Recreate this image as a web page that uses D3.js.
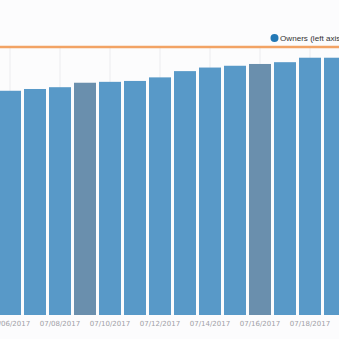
<!DOCTYPE html>
<html><head><meta charset="utf-8">
<script src="https://cdn.jsdelivr.net/npm/d3@7"></script>
<style>html,body{margin:0;padding:0;background:#fcfcfd;}svg{display:block;}</style>
</head><body>
<script>
// Data
const allDates = ["07/05/2017","07/06/2017","07/07/2017","07/08/2017","07/09/2017","07/10/2017","07/11/2017","07/12/2017","07/13/2017","07/14/2017","07/15/2017","07/16/2017","07/17/2017","07/18/2017","07/19/2017","07/20/2017"];
const barDates = ["07/06/2017","07/07/2017","07/08/2017","07/09/2017","07/10/2017","07/11/2017","07/12/2017","07/13/2017","07/14/2017","07/15/2017","07/16/2017","07/17/2017","07/18/2017","07/19/2017"];
const owners = [251, 253, 255, 260, 261, 262, 266, 273, 277, 279, 281, 283, 288, 288];
const highlighted = ["07/09/2017","07/16/2017"];
const rightSeries = [100,100,100,100,100,100,100,100,100,100,100,100,100,100,100,100];
const tickLabels = ["07/06/2017","07/08/2017","07/10/2017","07/12/2017","07/14/2017","07/16/2017","07/18/2017"];
const legendLabel = "Owners (left axis)";

const W = 339, H = 339;
const svg = d3.select("body").append("svg").attr("width", W).attr("height", H);
svg.append("rect").attr("width", W).attr("height", H).attr("fill", "#fcfcfd");

const x = d3.scaleBand().domain(allDates).range([-27.5, 372.5]).paddingInner(0.12).paddingOuter(0.06);
const y = d3.scaleLinear().domain([0, 300]).range([315, 47]);
const y2 = d3.scaleLinear().domain([0, 100]).range([315, 47]);

// vertical grid
svg.append("g").selectAll("line").data(tickLabels).join("line")
  .attr("x1", d => x(d) + x.bandwidth()/2).attr("x2", d => x(d) + x.bandwidth()/2)
  .attr("y1", y2(100)).attr("y2", y(0))
  .attr("stroke", "#ececef").attr("stroke-width", 1);

// bars
svg.append("g").selectAll("rect").data(barDates.map((d,i)=>({d, v: owners[i]}))).join("rect")
  .attr("x", d => x(d.d)).attr("width", x.bandwidth())
  .attr("y", d => y(d.v)).attr("height", d => y(0) - y(d.v))
  .attr("fill", d => highlighted.includes(d.d) ? "#6a8fad" : "#5899c8");

// orange line
const line = d3.line().x((d,i) => x(allDates[i]) + x.bandwidth()/2).y(d => y2(d));
svg.append("path").datum(rightSeries).attr("d", line)
  .attr("fill", "none").attr("stroke", "#f2a365").attr("stroke-width", 2.5);

// x axis labels
const xAxis = d3.axisBottom(x).tickValues(tickLabels).tickSize(0).tickPadding(0);
const gx = svg.append("g").attr("transform", `translate(0,${y(0)})`).call(xAxis);
gx.select(".domain").remove();
gx.selectAll("text").attr("font-family", "DejaVu Sans").attr("font-size", 7)
  .attr("fill", "#a0a0a6").attr("dy", null).attr("y", 10.5);

// legend
const lg = svg.append("g");
lg.append("circle").attr("cx", 274.5).attr("cy", 38).attr("r", 4).attr("fill", "#2378b5");
lg.append("text").attr("x", 280).attr("y", 41).attr("font-family", "Liberation Sans, Arial")
  .attr("font-size", 8.1).attr("fill", "#333").text(legendLabel);
</script>
</body></html>
